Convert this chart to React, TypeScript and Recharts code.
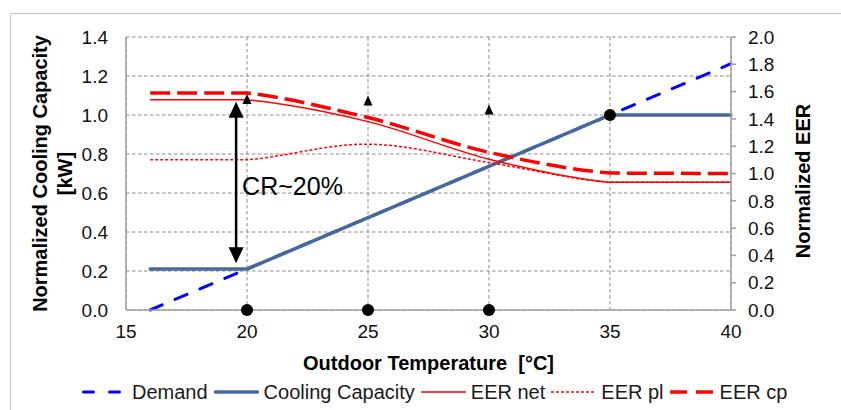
import React from 'react';
import {
  ComposedChart,
  Line,
  XAxis,
  YAxis,
  CartesianGrid,
  Legend,
  ReferenceLine,
} from 'recharts';

const FONT = '"Liberation Sans", Arial, sans-serif';

// ---- data ----
const xTicks = [15, 20, 25, 30, 35, 40];
const leftTicks = [0, 0.2, 0.4, 0.6, 0.8, 1.0, 1.2, 1.4];
const rightTicks = [0, 0.2, 0.4, 0.6, 0.8, 1.0, 1.2, 1.4, 1.6, 1.8, 2.0];

const demandTemps = [16, 40];
const demandValues = [0, 1.263];

const capTemps = [16, 20, 35, 40];
const capValues = [0.21, 0.21, 1.0, 1.0];

const eerTemps = [16, 20, 25, 30, 35, 40];
const eerNet = [1.54, 1.54, 1.38, 1.105, 0.935, 0.935];
const eerPl = [1.1, 1.1, 1.215, 1.08, 0.935, 0.935];
const eerCp = [1.59, 1.59, 1.41, 1.155, 1.003, 1.0];

const circleTemps = [20, 25, 30, 35];
const circleValues = [0, 0, 0, 1.0];

const triangleTemps = [20, 25, 30];
const triangleValues = [1.542, 1.532, 1.465];

const arrowTemp = 19.55;
const arrowFrom = 0.24;
const arrowTo = 1.068;
const arrowText = 'CR~20%';

const legendNames = ['Demand', 'Cooling Capacity', 'EER net', 'EER pl', 'EER cp'];

const toData = (xs: number[], ys: number[]) => xs.map((t, i) => ({ t, v: ys[i] }));

const demandData = toData(demandTemps, demandValues);
const capData = toData(capTemps, capValues);
const netData = toData(eerTemps, eerNet);
const plData = toData(eerTemps, eerPl);
const cpData = toData(eerTemps, eerCp);
const circleData = toData(circleTemps, circleValues);
const triangleData = toData(triangleTemps, triangleValues);

// smoothed line (Catmull-Rom), flat stretches stay straight
const smoothCurve = (context: any) => {
  let pts: number[][] = [];
  return {
    areaStart() {},
    areaEnd() {},
    lineStart() {
      pts = [];
    },
    point(x: number, y: number) {
      pts.push([+x, +y]);
    },
    lineEnd() {
      const n = pts.length;
      if (!n) return;
      context.moveTo(pts[0][0], pts[0][1]);
      for (let i = 0; i < n - 1; i++) {
        const p0 = pts[i - 1] || pts[i];
        const p1 = pts[i];
        const p2 = pts[i + 1];
        const p3 = pts[i + 2] || pts[i + 1];
        if (Math.abs(p1[1] - p2[1]) < 0.8) {
          context.lineTo(p2[0], p2[1]);
          continue;
        }
        const k = 6;
        context.bezierCurveTo(
          p1[0] + (p2[0] - p0[0]) / k,
          p1[1] + (p2[1] - p0[1]) / k,
          p2[0] - (p3[0] - p1[0]) / k,
          p2[1] - (p3[1] - p1[1]) / k,
          p2[0],
          p2[1]
        );
      }
    },
  };
};

// ---- styles ----
const BLUE = '#0000FF';
const STEEL = '#46699C';
const RED = '#FF0000';
const GRID = '#8a8a8a';
const AXIS = '#a0a0a0';

const legendIcons: Record<string, any> = {
  Demand: { stroke: BLUE, strokeWidth: 3, strokeDasharray: '10 16', strokeLinecap: 'round', x1: 1.5, x2: 43.5 },
  'Cooling Capacity': { stroke: STEEL, strokeWidth: 3.5, strokeLinecap: 'round', x1: 1.5, x2: 43.5 },
  'EER net': { stroke: RED, strokeWidth: 1.5, x1: 0, x2: 45 },
  'EER pl': { stroke: RED, strokeWidth: 1.5, strokeDasharray: '3 2', x1: 0, x2: 45 },
  'EER cp': { stroke: RED, strokeWidth: 3.5, strokeDasharray: '17 9', x1: 0, x2: 45 },
};

const renderLegend = () => (
  <div style={{ display: 'flex', alignItems: 'center', height: 24 }}>
    {legendNames.map((name) => {
      const s = legendIcons[name];
      return (
        <div key={name} style={{ display: 'flex', alignItems: 'center' }}>
          <svg width={45} height={12} style={{ display: 'block' }}>
            <line
              x1={s.x1}
              x2={s.x2}
              y1={6}
              y2={6}
              stroke={s.stroke}
              strokeWidth={s.strokeWidth}
              strokeDasharray={s.strokeDasharray}
              strokeLinecap={s.strokeLinecap || 'butt'}
            />
          </svg>
          <span
            style={{
              fontFamily: FONT,
              fontSize: 20,
              lineHeight: '24px',
              color: '#1a1a1a',
              marginLeft: 5,
              marginRight: 6,
              whiteSpace: 'nowrap',
            }}
          >
            {name}
          </span>
        </div>
      );
    })}
  </div>
);

const LeftTitle = (props: any) => {
  const vb = props.viewBox || {};
  const cy = vb.y + vb.height / 2;
  const x1 = vb.x + 40;
  const x2 = vb.x + 65;
  return (
    <g>
      <text
        x={x1}
        y={cy}
        transform={`rotate(-90, ${x1}, ${cy})`}
        textAnchor="middle"
        dominantBaseline="central"
        fontFamily={FONT}
        fontSize={20}
        fontWeight="bold"
        fill="#000"
      >
        Normalized Cooling Capacity
      </text>
      <text
        x={x2}
        y={cy}
        transform={`rotate(-90, ${x2}, ${cy})`}
        textAnchor="middle"
        dominantBaseline="central"
        fontFamily={FONT}
        fontSize={20}
        fontWeight="bold"
        fill="#000"
      >
        [kW]
      </text>
    </g>
  );
};

const RightTitle = (props: any) => {
  const vb = props.viewBox || {};
  const cy = vb.y + vb.height / 2 + 7.5;
  const x = vb.x + 72;
  return (
    <text
      x={x}
      y={cy}
      transform={`rotate(-90, ${x}, ${cy})`}
      textAnchor="middle"
      dominantBaseline="central"
      fontFamily={FONT}
      fontSize={20}
      fontWeight="bold"
      fill="#000"
    >
      Normalized EER
    </text>
  );
};

const BottomTitle = (props: any) => {
  const vb = props.viewBox || {};
  const cx = vb.x + vb.width / 2;
  const cy = vb.y + 53;
  return (
    <text
      x={cx}
      y={cy}
      textAnchor="middle"
      dominantBaseline="central"
      fontFamily={FONT}
      fontSize={20}
      fontWeight="bold"
      fill="#000"
      style={{ whiteSpace: 'pre' }}
    >
      {'Outdoor Temperature  [\u00B0C]'}
    </text>
  );
};

const ArrowShape = (props: any) => {
  const { x1, y1, x2, y2 } = props;
  const x = x1;
  const bottom = Math.max(y1, y2);
  const top = Math.min(y1, y2);
  const h = 16;
  const w = 7.5;
  return (
    <g>
      <line x1={x} x2={x2} y1={top + h - 1} y2={bottom - h + 1} stroke="#000" strokeWidth={2.5} />
      <polygon points={`${x},${top} ${x - w},${top + h} ${x + w},${top + h}`} fill="#000" />
      <polygon points={`${x},${bottom} ${x - w},${bottom - h} ${x + w},${bottom - h}`} fill="#000" />
      <text
        x={x + 6}
        y={(top + bottom) / 2 + 13}
        fontFamily={FONT}
        fontSize={25}
        fill="#000"
      >
        {arrowText}
      </text>
    </g>
  );
};

const TriangleDot = (props: any) => {
  const { cx, cy, index } = props;
  if (cx == null || cy == null) return <g key={`tri-${index}`} />;
  return (
    <path
      key={`tri-${index}`}
      d={`M${cx},${cy - 5.5} L${cx + 4.5},${cy + 4.5} L${cx - 4.5},${cy + 4.5} Z`}
      fill="#000"
    />
  );
};

const CircleDot = (props: any) => {
  const { cx, cy, index } = props;
  if (cx == null || cy == null) return <g key={`c-${index}`} />;
  return <circle key={`c-${index}`} cx={cx} cy={cy} r={6} fill="#000" />;
};

const tickStyle = { fontSize: 19, fill: '#111', fontFamily: FONT };

export default function App() {
  return (
    <div
      style={{
        position: 'absolute',
        left: 0,
        top: 0,
        width: 841,
        height: 410,
        overflow: 'hidden',
        background: '#fff',
      }}
    >
      <div
        style={{
          position: 'absolute',
          left: 10,
          top: 13,
          width: 860,
          height: 420,
          border: '1.5px solid #c4c4c4',
          boxSizing: 'border-box',
        }}
      />
      <div style={{ position: 'absolute', left: 0, top: 0 }}>
        <ComposedChart width={841} height={410} margin={{ top: 37, right: 0, bottom: 0, left: 0 }}>
          <CartesianGrid
            yAxisId="left"
            stroke={GRID}
            strokeDasharray="3.5 2.5"
            horizontalValues={leftTicks}
            verticalValues={xTicks}
          />
          <XAxis
            dataKey="t"
            type="number"
            domain={[15, 40]}
            ticks={xTicks}
            height={100}
            tickLine={false}
            tickSize={0}
            tickMargin={15}
            axisLine={{ stroke: AXIS, strokeWidth: 1.5 }}
            tick={tickStyle}
            interval={0}
            allowDuplicatedCategory={false}
            label={{ content: BottomTitle }}
          />
          <YAxis
            yAxisId="left"
            orientation="left"
            type="number"
            domain={[0, 1.4]}
            ticks={leftTicks}
            width={126}
            tickLine={false}
            tickSize={0}
            tickMargin={18}
            axisLine={{ stroke: AXIS, strokeWidth: 1.5 }}
            tick={tickStyle}
            interval={0}
            tickFormatter={(v: number) => v.toFixed(1)}
            label={{ content: LeftTitle }}
          />
          <YAxis
            yAxisId="right"
            orientation="right"
            type="number"
            domain={[0, 2]}
            ticks={rightTicks}
            width={110}
            tickLine={{ stroke: AXIS, strokeWidth: 1.5 }}
            tickSize={5}
            tickMargin={12}
            axisLine={{ stroke: AXIS, strokeWidth: 1.5 }}
            tick={tickStyle}
            interval={0}
            tickFormatter={(v: number) => v.toFixed(1)}
            label={{ content: RightTitle }}
          />
          <Legend
            layout="horizontal"
            verticalAlign="middle"
            align="center"
            wrapperStyle={{ top: 380, left: 82, width: 740, height: 24 }}
            content={renderLegend}
          />
          <Line
            yAxisId="left"
            data={demandData}
            dataKey="v"
            name="Demand"
            type="linear"
            stroke={BLUE}
            strokeWidth={3}
            strokeDasharray="13 14"
            strokeLinecap="round"
            dot={false}
            activeDot={false}
            isAnimationActive={false}
            legendType="none"
          />
          <Line
            yAxisId="left"
            data={capData}
            dataKey="v"
            name="Cooling Capacity"
            type="linear"
            stroke={STEEL}
            strokeWidth={3.5}
            strokeLinecap="round"
            dot={false}
            activeDot={false}
            isAnimationActive={false}
            legendType="none"
          />
          <Line
            yAxisId="right"
            data={netData}
            dataKey="v"
            name="EER net"
            type={smoothCurve as any}
            stroke={RED}
            strokeWidth={1.5}
            dot={false}
            activeDot={false}
            isAnimationActive={false}
            legendType="none"
          />
          <Line
            yAxisId="right"
            data={plData}
            dataKey="v"
            name="EER pl"
            type={smoothCurve as any}
            stroke={RED}
            strokeWidth={1.5}
            strokeDasharray="3 2"
            dot={false}
            activeDot={false}
            isAnimationActive={false}
            legendType="none"
          />
          <Line
            yAxisId="right"
            data={cpData}
            dataKey="v"
            name="EER cp"
            type={smoothCurve as any}
            stroke={RED}
            strokeWidth={3.5}
            strokeDasharray="20 7"
            dot={false}
            activeDot={false}
            isAnimationActive={false}
            legendType="none"
          />
          <ReferenceLine
            yAxisId="left"
            segment={[
              { x: arrowTemp, y: arrowFrom },
              { x: arrowTemp, y: arrowTo },
            ]}
            shape={ArrowShape}
          />
          <Line
            yAxisId="right"
            data={triangleData}
            dataKey="v"
            name="markers-tri"
            stroke="none"
            dot={TriangleDot}
            activeDot={false}
            isAnimationActive={false}
            legendType="none"
          />
          <Line
            yAxisId="left"
            data={circleData}
            dataKey="v"
            name="markers-circ"
            stroke="none"
            dot={CircleDot}
            activeDot={false}
            isAnimationActive={false}
            legendType="none"
          />
        </ComposedChart>
      </div>
    </div>
  );
}
